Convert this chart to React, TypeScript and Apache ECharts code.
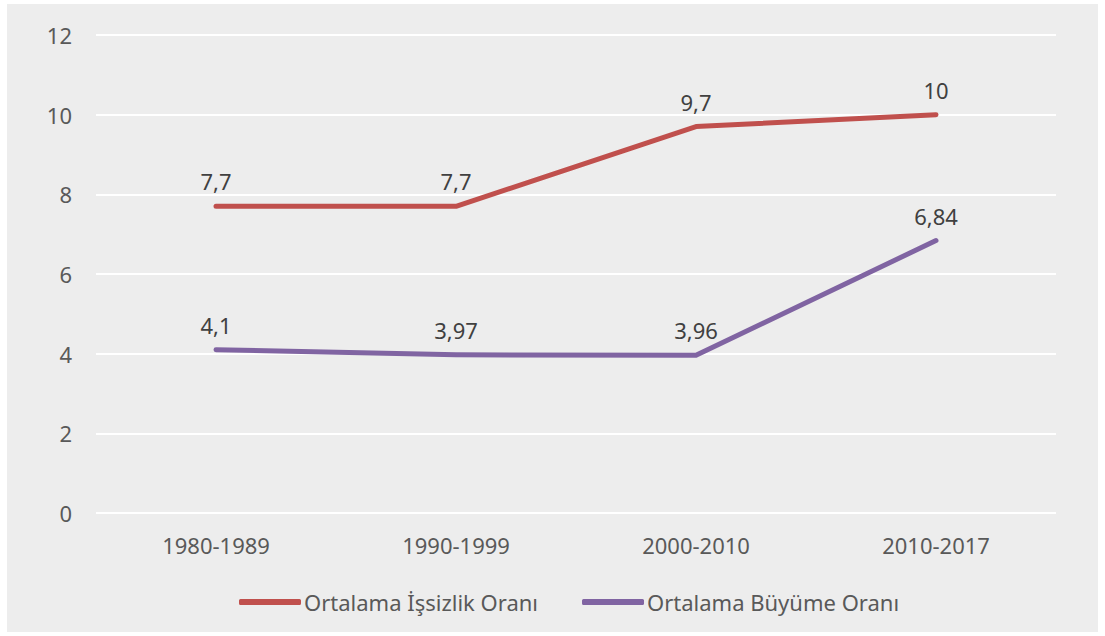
import React, { useEffect, useRef } from "react";
import * as echarts from "echarts";

const categories = ["1980-1989", "1990-1999", "2000-2010", "2010-2017"];
const unemployment = [7.7, 7.7, 9.7, 10];
const growth = [4.1, 3.97, 3.96, 6.84];
const seriesNames = ["Ortalama İşsizlik Oranı", "Ortalama Büyüme Oranı"];
const yTicks = { min: 0, max: 12, interval: 2 };

const FONT = "'Noto Sans', sans-serif";

export default function App() {
  const ref = useRef<HTMLDivElement>(null);
  useEffect(() => {
    if (!ref.current) return;
    const chart = echarts.init(ref.current, undefined, { renderer: "svg" });
    const fmt = (p: any) => String(p.value).replace(".", ",");
    const label = {
      show: true,
      position: "top",
      distance: 13,
      formatter: fmt,
      color: "#404040",
      fontSize: 22,
      fontFamily: FONT,
    };
    chart.setOption({
      animation: false,
      backgroundColor: "transparent",
      textStyle: { fontFamily: FONT },
      grid: { left: 89, right: 42, top: 31, bottom: 119 },
      legend: {
        bottom: 14,
        left: 227,
        itemWidth: 62,
        itemHeight: 6,
        itemGap: 44,
        icon: "roundRect",
        textStyle: { color: "#595959", fontSize: 22, fontFamily: FONT, padding: [0, 0, 0, -2] },
        data: seriesNames,
      },
      xAxis: {
        type: "category",
        data: categories,
        boundaryGap: true,
        axisLine: { show: false },
        axisTick: { show: false },
        axisLabel: { color: "#595959", fontSize: 22, fontFamily: FONT, margin: 21 },
      },
      yAxis: {
        type: "value",
        min: yTicks.min,
        max: yTicks.max,
        interval: yTicks.interval,
        axisLine: { show: false },
        axisTick: { show: false },
        axisLabel: { color: "#595959", fontSize: 22, fontFamily: FONT, margin: 24 },
        splitLine: { lineStyle: { color: "#ffffff", width: 2 } },
      },
      series: [
        {
          name: seriesNames[0],
          type: "line",
          data: unemployment,
          symbol: "circle",
          symbolSize: 2,
          showSymbol: true,
          color: "#c0504d",
          itemStyle: { color: "#c0504d" },
          lineStyle: { width: 5, color: "#c0504d", cap: "round", join: "round" },
          label,
        },
        {
          name: seriesNames[1],
          type: "line",
          data: growth,
          symbol: "circle",
          symbolSize: 2,
          showSymbol: true,
          color: "#8064a2",
          itemStyle: { color: "#8064a2" },
          lineStyle: { width: 5, color: "#8064a2", cap: "round", join: "round" },
          label,
        },
      ],
    });
    return () => chart.dispose();
  }, []);
  return (
    <div style={{ position: "absolute", left: 0, top: 0, width: 1105, height: 636, background: "#ffffff" }}>
      <div
        style={{ position: "absolute", left: 7, top: 4, width: 1091, height: 628, background: "#ededed" }}
      >
        <div ref={ref} style={{ width: 1091, height: 628 }} />
      </div>
    </div>
  );
}
